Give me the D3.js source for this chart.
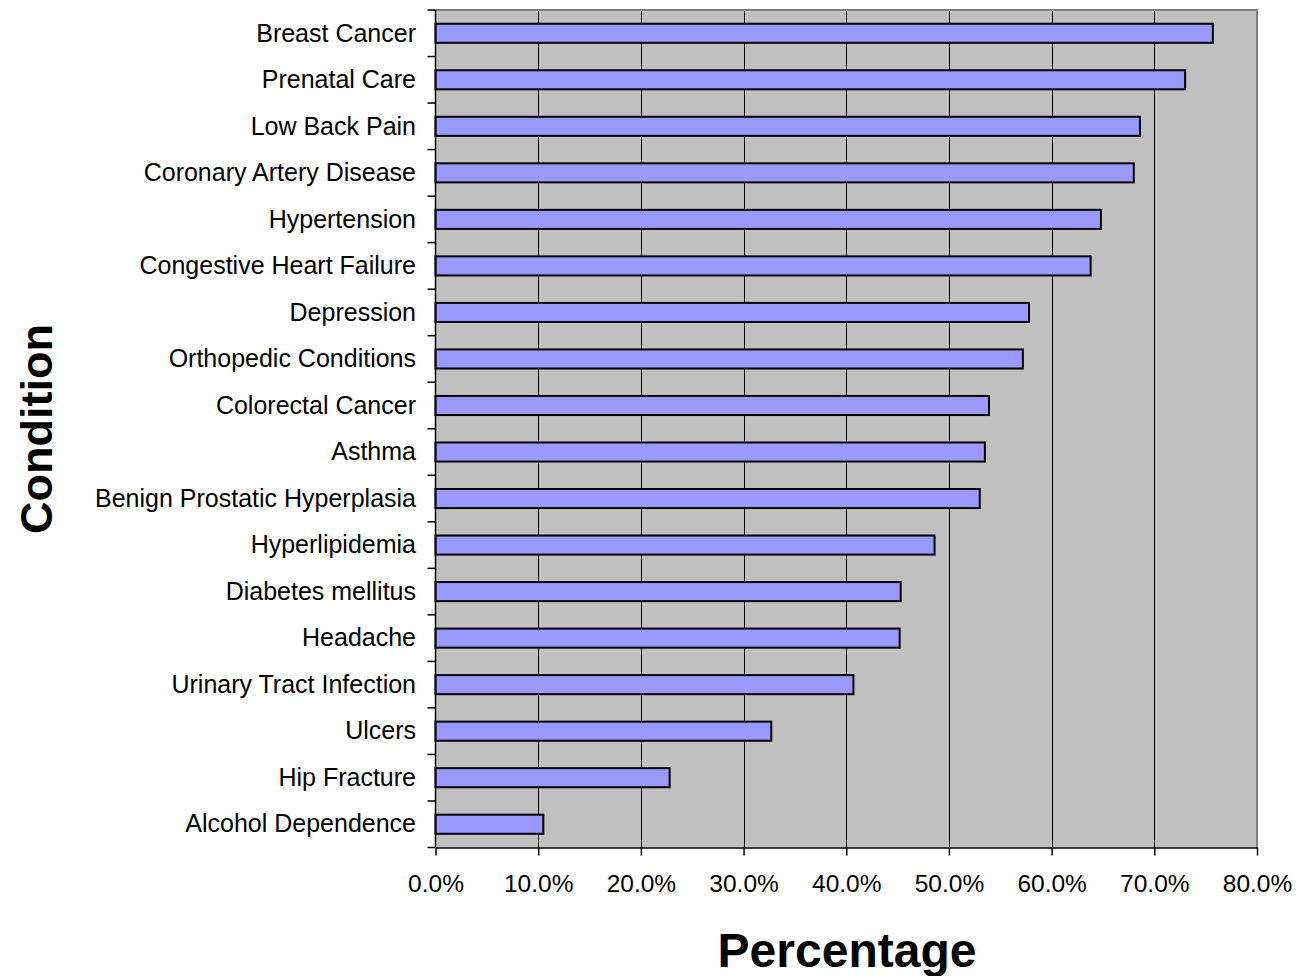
<!DOCTYPE html>
<html>
<head>
<meta charset="utf-8">
<script src="https://cdn.jsdelivr.net/npm/d3@7"></script>
<style>
  html, body { margin: 0; padding: 0; background: #ffffff; }
  svg { display: block; font-family: "Liberation Sans", Arial, sans-serif; }
</style>
</head>
<body>
<svg id="chart" width="1308" height="976"></svg>
<script>
// Share of patients receiving recommended care, by condition
const conditions = [
  "Breast Cancer", "Prenatal Care", "Low Back Pain", "Coronary Artery Disease",
  "Hypertension", "Congestive Heart Failure", "Depression", "Orthopedic Conditions",
  "Colorectal Cancer", "Asthma", "Benign Prostatic Hyperplasia", "Hyperlipidemia",
  "Diabetes mellitus", "Headache", "Urinary Tract Infection", "Ulcers",
  "Hip Fracture", "Alcohol Dependence"
];
const percentages = [
  0.757, 0.730, 0.686, 0.680,
  0.648, 0.638, 0.578, 0.572,
  0.539, 0.535, 0.530, 0.486,
  0.453, 0.452, 0.407, 0.327,
  0.228, 0.105
];
const xTicks = [0, 0.1, 0.2, 0.3, 0.4, 0.5, 0.6, 0.7, 0.8];
const xTitle = "Percentage";
const yTitle = "Condition";

const data = conditions.map((c, i) => ({ name: c, value: percentages[i] }));

const svg = d3.select("#chart");
const plot = { left: 435.5, right: 1257, top: 10, bottom: 847.5 };

const x = d3.scaleLinear().domain([0, 0.8]).range([plot.left, plot.right]);
const y = d3.scaleBand()
  .domain(conditions)
  .range([plot.top, plot.bottom])
  .paddingInner(0.59)
  .paddingOuter(0.295);

// plot background
svg.append("rect")
  .attr("x", plot.left).attr("y", plot.top)
  .attr("width", plot.right - plot.left)
  .attr("height", plot.bottom - plot.top)
  .attr("fill", "#c0c0c0");

// vertical gridlines
svg.append("g")
  .selectAll("line")
  .data(xTicks.slice(1, -1))
  .join("line")
  .attr("x1", d => Math.round(x(d)) + 0.5).attr("x2", d => Math.round(x(d)) + 0.5)
  .attr("y1", plot.top).attr("y2", plot.bottom)
  .attr("stroke", "#000").attr("stroke-width", 1);

// plot border (top and right)
svg.append("path")
  .attr("d", `M${plot.left},${plot.top}H${plot.right}V${plot.bottom}`)
  .attr("fill", "none")
  .attr("stroke", "#808080")
  .attr("stroke-width", 2);

// bars
svg.append("g")
  .selectAll("rect")
  .data(data)
  .join("rect")
  .attr("x", x(0))
  .attr("y", d => y(d.name))
  .attr("width", d => x(d.value) - x(0))
  .attr("height", y.bandwidth())
  .attr("fill", "#9999ff")
  .attr("stroke", "#000")
  .attr("stroke-width", 2);

// x axis
const xAxis = d3.axisBottom(x)
  .tickValues(xTicks)
  .tickFormat(d3.format(".1%"))
  .tickSizeInner(8)
  .tickSizeOuter(0)
  .tickPadding(19);
const gx = svg.append("g")
  .attr("transform", `translate(0,${plot.bottom})`)
  .call(xAxis);
gx.select(".domain").attr("stroke", "#000").attr("stroke-width", 1.5);
gx.selectAll(".tick line").attr("stroke", "#000").attr("stroke-width", 1.5);
gx.selectAll(".tick text")
  .attr("font-size", 24.5)
  .attr("font-family", "Liberation Sans, Arial, sans-serif")
  .attr("fill", "#000");

// y axis: line, ticks at category boundaries, labels at centers
const step = y.step();
const y0 = y.range()[0];
const boundaries = d3.range(conditions.length + 1).map(i => y0 + i * step);
const gy = svg.append("g");
gy.append("line")
  .attr("x1", plot.left).attr("x2", plot.left)
  .attr("y1", plot.top).attr("y2", plot.bottom)
  .attr("stroke", "#000").attr("stroke-width", 1.5);
gy.selectAll("line.tick")
  .data(boundaries)
  .join("line")
  .attr("class", "tick")
  .attr("x1", plot.left - 8).attr("x2", plot.left)
  .attr("y1", d => d).attr("y2", d => d)
  .attr("stroke", "#000").attr("stroke-width", 1.5);
gy.selectAll("text")
  .data(conditions)
  .join("text")
  .attr("x", 416)
  .attr("y", d => y(d) + y.bandwidth() / 2)
  .attr("dy", "0.33em")
  .attr("text-anchor", "end")
  .attr("font-size", 25)
  .attr("fill", "#000")
  .text(d => d);

// axis titles
svg.append("text")
  .attr("x", 847)
  .attr("y", 967)
  .attr("text-anchor", "middle")
  .attr("font-size", 48)
  .attr("font-weight", "bold")
  .attr("fill", "#000")
  .text(xTitle);

svg.append("text")
  .attr("transform", `translate(52,429) rotate(-90)`)
  .attr("text-anchor", "middle")
  .attr("font-size", 45)
  .attr("font-weight", "bold")
  .attr("fill", "#000")
  .text(yTitle);
</script>
</body>
</html>
